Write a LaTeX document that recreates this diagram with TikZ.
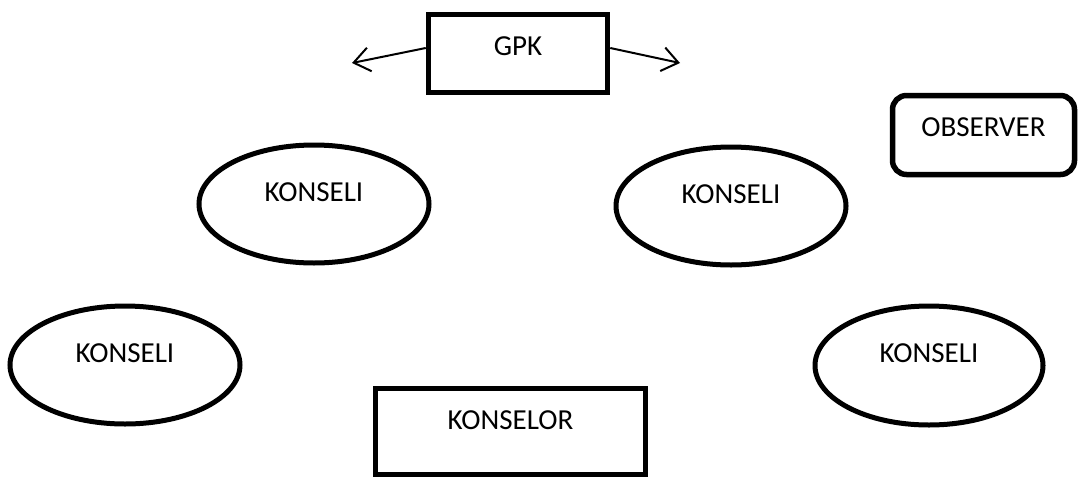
\documentclass[tikz,border=0pt]{standalone}
\usepackage{fontspec}
\setmainfont{Carlito}
\usetikzlibrary{shapes.geometric,arrows.meta}
\begin{document}
\begin{tikzpicture}[x=1pt,y=-1pt,
  lbl/.style={font=\fontsize{29}{32}\selectfont, inner sep=0pt, text height=18.7pt},
  konseli/.style={lbl, ellipse, draw, line width=5pt, minimum width=230pt, minimum height=118pt, text depth=24pt},
  boxnode/.style={lbl, rectangle, draw, line width=5.5pt},
  arr/.style={line width=2pt, -{Straight Barb[length=16pt,width=24pt,line width=2pt]}}
]
\useasboundingbox (0,0) rectangle (1079,480);
\node[boxnode, minimum width=179pt, minimum height=78pt, text depth=15pt] (gpk) at (518,53.5) {GPK};
\node[boxnode, rounded corners=14pt, minimum width=182pt, minimum height=79pt, text depth=16pt] (obs) at (983.5,135) {OBSERVER};
\node[boxnode, minimum width=270pt, minimum height=86pt, text depth=23pt] (kor) at (510.5,431.5) {KONSELOR};
\node[konseli] (k1) at (314,204) {KONSELI};
\node[konseli] (k2) at (731,206) {KONSELI};
\node[konseli] (k3) at (125,365) {KONSELI};
\node[konseli, minimum width=228pt, minimum height=119pt] (k4) at (929,365.5) {KONSELI};
\coordinate (la) at (352,63);
\coordinate (ra) at (680,63);
\draw[arr] ([yshift=5.5pt]gpk.west) -- (la);
\draw[arr] ([yshift=5.5pt]gpk.east) -- (ra);
\end{tikzpicture}
\end{document}
